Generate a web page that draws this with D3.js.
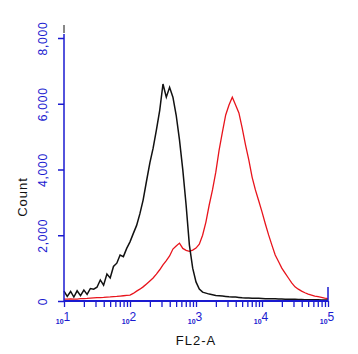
<!DOCTYPE html>
<html>
<head>
<meta charset="utf-8">
<script src="https://cdn.jsdelivr.net/npm/d3@7"></script>
<style>
  html, body { margin: 0; padding: 0; background: #fff; }
  svg { display: block; font-family: "Liberation Sans", Arial, sans-serif; }
</style>
</head>
<body>
<svg id="chart" width="358" height="354"></svg>
<script>
(function () {
  "use strict";

  // FL2-A channel positions (log spaced, 20 per decade)
  const channels = [
    10, 11.2, 12.6, 14.1, 15.8, 17.8, 20, 22.4, 25.1, 28.2, 31.6, 35.5, 39.8, 44.7, 50.1, 56.2, 63.1, 70.8, 79.4, 89.1,
    100, 112, 126, 141, 158, 178, 200, 224, 251, 282, 316, 355, 398, 447, 501, 562, 631, 708, 794, 891,
    1000, 1122, 1259, 1413, 1585, 1778, 1995, 2239, 2512, 2818, 3162, 3548, 3981, 4467, 5012, 5623, 6310, 7079, 7943, 8913,
    10000, 11220, 12589, 14125, 15849, 17783, 19953, 22387, 25119, 28184, 31623, 35481, 39811, 44668, 50119, 56234, 63096, 70795, 79433, 89125,
    100000
  ];

  // control (black)
  const controlCounts = [
    300, 140, 290, 120, 310, 160, 330, 200, 380, 360, 420, 640, 480, 820, 700, 1050, 1150, 1400, 1350, 1600,
    1800, 2050, 2300, 2650, 3070, 3650, 4200, 4650, 5200, 5800, 6600, 6200, 6500, 6200, 5650, 4900, 3990, 2920, 1700, 1000,
    580, 365, 270, 240, 210, 190, 170, 160, 150, 140, 130, 125, 120, 110, 100, 95, 90, 85, 80, 80,
    75, 70, 70, 65, 65, 60, 60, 55, 55, 50, 50, 45, 45, 40, 40, 38, 35, 35, 32, 30,
    30
  ];

  // stained (red)
  const stainedCounts = [
    60, 55, 65, 60, 60, 70, 75, 80, 90, 95, 100, 105, 110, 120, 125, 135, 140, 150, 160, 170,
    180, 230, 300, 360, 430, 520, 610, 700, 820, 950, 1100, 1230, 1370, 1580, 1670, 1760, 1600, 1540, 1510, 1550,
    1610, 1730, 2000, 2400, 2920, 3380, 3920, 4590, 5140, 5660, 5960, 6200, 5960, 5720, 5260, 4750, 4290, 3770, 3380, 3050,
    2710, 2350, 2010, 1700, 1400, 1200, 1000, 850, 700, 550, 430, 360, 300, 250, 210, 180, 150, 130, 110, 90,
    75
  ];

  const yTicks = [0, 2000, 4000, 6000, 8000];
  const xMajor = [10, 100, 1000, 10000, 100000];
  const xExp = ["1", "2", "3", "4", "5"];

  const axisBlue = "#1a1ad0";
  const svg = d3.select("#chart");

  const x = d3.scaleLog().domain([10, 100000]).range([64, 328]);
  const y = d3.scaleLinear().domain([0, 8000]).range([301, 38]);

  // curves
  const line = d3.line()
    .x((d) => x(d[0]))
    .y((d) => y(d[1]));

  svg.append("path")
    .datum(d3.zip(channels, stainedCounts))
    .attr("fill", "none")
    .attr("stroke", "#e8141c")
    .attr("stroke-width", 1.3)
    .attr("d", line);

  svg.append("path")
    .datum(d3.zip(channels, controlCounts))
    .attr("fill", "none")
    .attr("stroke", "#111")
    .attr("stroke-width", 1.5)
    .attr("d", line);

  // y axis
  const gy = svg.append("g")
    .attr("transform", "translate(64,0)")
    .call(d3.axisLeft(y).tickValues(yTicks).tickSize(6).tickFormat(d3.format(",")));
  gy.select(".domain").remove();
  gy.selectAll(".tick line").attr("stroke", axisBlue).attr("stroke-width", 1.5);
  gy.selectAll(".tick text")
    .attr("fill", axisBlue)
    .attr("font-size", 12)
    .attr("letter-spacing", 0.8)
    .attr("text-anchor", "middle")
    .attr("transform", "rotate(-90)")
    .attr("x", 0)
    .attr("y", -17)
    .attr("dy", 0);
  svg.append("line")
    .attr("x1", 64).attr("x2", 64)
    .attr("y1", y(0)).attr("y2", 34)
    .attr("stroke", axisBlue).attr("stroke-width", 1.5);
  svg.append("line")
    .attr("x1", 64).attr("x2", 64)
    .attr("y1", 33).attr("y2", 25)
    .attr("stroke", "#111").attr("stroke-width", 1);

  // x axis with log minor ticks
  const gx = svg.append("g")
    .attr("transform", `translate(0,${y(0)})`)
    .call(d3.axisBottom(x).tickValues(x.ticks()).tickSize(6).tickFormat(""));
  gx.select(".domain").remove();
  gx.selectAll(".tick line").attr("stroke", axisBlue).attr("stroke-width", 1.3);
  svg.append("line")
    .attr("x1", 64).attr("x2", x(100000))
    .attr("y1", y(0)).attr("y2", y(0))
    .attr("stroke", axisBlue).attr("stroke-width", 2);
  svg.append("line")
    .attr("x1", x(100000)).attr("x2", x(100000))
    .attr("y1", y(0)).attr("y2", 287)
    .attr("stroke", axisBlue).attr("stroke-width", 1.5);

  const lab = svg.append("g").selectAll("text")
    .data(xMajor)
    .join("text")
    .attr("x", (d) => x(d) - 1)
    .attr("y", 324)
    .attr("text-anchor", "middle")
    .attr("fill", axisBlue);
  lab.append("tspan").attr("font-size", 7).attr("font-weight", "bold").text("10");
  lab.append("tspan").attr("font-size", 12).attr("dy", -3).text((d, i) => xExp[i]);

  // axis titles
  svg.append("text")
    .attr("x", 196)
    .attr("y", 345)
    .attr("text-anchor", "middle")
    .attr("font-size", 13)
    .attr("letter-spacing", 1)
    .attr("fill", "#111")
    .text("FL2-A");

  svg.append("text")
    .attr("transform", "translate(27,197) rotate(-90)")
    .attr("text-anchor", "middle")
    .attr("font-size", 13)
    .attr("letter-spacing", 1)
    .attr("fill", "#111")
    .text("Count");
})();
</script>
</body>
</html>
